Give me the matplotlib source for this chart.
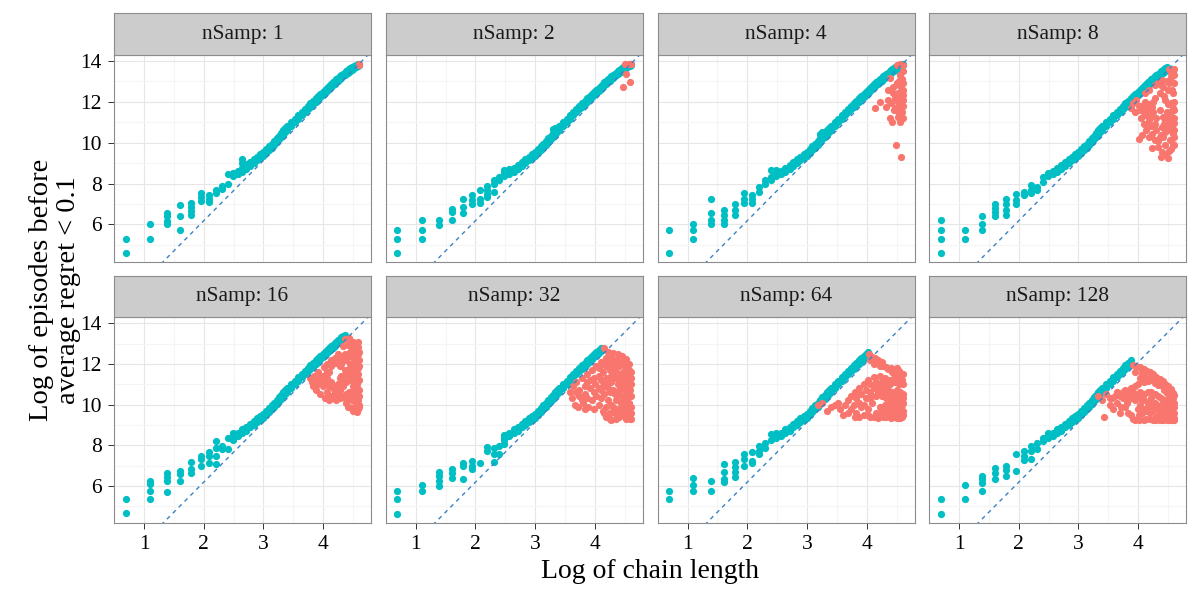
import matplotlib
matplotlib.use('Agg')
import matplotlib.pyplot as plt
import matplotlib.ticker as plticker
import numpy as np

plt.rcParams['font.family'] = ['Liberation Serif', 'DejaVu Serif']

# facet values
n_samp = [1, 2, 4, 8, 16, 32, 64, 128]

# shared teal band (chain length, lower and upper edge of log episodes)
band_len = [12, 13, 14, 15, 16, 17, 18, 19, 20, 21, 22, 23, 24, 25, 26, 27, 28, 29, 30,
            32, 34, 36, 38, 40, 42, 44, 46, 48, 50, 52, 54, 56, 58, 60, 62, 64, 66, 68,
            70, 72, 74, 76, 78, 80, 82, 84, 86, 88, 90, 92, 94, 96, 98, 100]
band_lo = [8.35, 8.45, 8.58, 8.72, 8.88, 9.0, 9.14, 9.25, 9.36, 9.5, 9.63, 9.76, 9.9, 10.03,
           10.17, 10.29, 10.4, 10.5, 10.6, 10.8, 11.0, 11.17, 11.34, 11.49, 11.63, 11.76,
           11.89, 12.01, 12.12, 12.23, 12.34, 12.44, 12.53, 12.62, 12.71, 12.8, 12.88, 12.96,
           13.03, 13.1, 13.17, 13.24, 13.3, 13.36, 13.42, 13.48, 13.53, 13.58, 13.62, 13.66,
           13.7, 13.74, 13.77, 13.8]
band_hi = [8.5, 8.62, 8.78, 8.92, 9.05, 9.2, 9.32, 9.44, 9.55, 9.68, 9.82, 9.96, 10.08, 10.22,
           10.35, 10.48, 10.6, 10.7, 10.8, 11.0, 11.18, 11.36, 11.52, 11.66, 11.8, 11.94,
           12.06, 12.18, 12.29, 12.4, 12.5, 12.6, 12.69, 12.78, 12.87, 12.95, 13.02, 13.1,
           13.17, 13.24, 13.31, 13.37, 13.43, 13.49, 13.54, 13.59, 13.64, 13.68, 13.72, 13.76,
           13.79, 13.82, 13.85, 13.87]

# largest chain length that still has teal points, per facet
teal_max_len = [100, 100, 100, 88, 78, 61, 57, 49]

# teal points for short chains, per facet: (chain length, log episodes)
teal_small_1 = [(2, 5.30), (2, 4.61), (3, 6.01), (3, 5.30), (4, 6.57), (4, 6.41), (4, 6.19),
                (4, 6.0), (5, 6.93), (5, 6.41), (5, 5.71), (6, 7.04), (6, 6.85), (6, 6.68),
                (6, 6.48), (7, 7.53), (7, 7.34), (7, 7.17), (8, 7.45), (8, 7.26), (8, 7.1),
                (9, 7.69), (9, 7.53), (10, 7.9), (10, 7.74), (11, 8.48), (11, 7.99),
                (14, 9.0), (14, 9.22), (15, 8.97)]
teal_small_2 = [(2, 5.71), (2, 5.30), (2, 4.63), (3, 6.20), (3, 5.71), (3, 5.30), (4, 6.2),
                (4, 5.99), (5, 6.77), (5, 6.6), (5, 6.2), (6, 7.24), (6, 6.85), (6, 6.56),
                (7, 7.42), (7, 7.21), (7, 7.01), (8, 7.67), (8, 7.26), (8, 7.04), (9, 7.86),
                (9, 7.7), (9, 7.47), (9, 7.34), (10, 8.16), (10, 7.99), (10, 7.58), (11, 8.32),
                (11, 8.16), (12, 8.65), (13, 8.73), (27, 10.65), (28, 10.7)]
teal_small_3 = [(2, 5.71), (2, 4.63), (3, 6.04), (3, 5.74), (3, 5.30), (4, 7.24), (4, 6.56),
                (4, 6.2), (4, 6.0), (5, 6.69), (5, 6.44), (5, 6.2), (5, 6.04), (6, 7.01),
                (6, 6.69), (6, 6.44), (7, 7.54), (7, 7.26), (7, 7.04), (8, 7.42), (8, 7.26),
                (8, 7.04), (9, 7.83), (9, 7.58), (10, 8.16), (10, 7.99), (11, 8.65), (11, 8.32),
                (11, 8.16), (12, 8.65), (25, 10.45), (26, 10.5)]
teal_small_4 = [(2, 6.2), (2, 5.71), (2, 5.30), (2, 4.63), (3, 5.71), (3, 5.30), (4, 6.41),
                (4, 6.02), (4, 5.71), (5, 7.01), (5, 6.8), (5, 6.6), (5, 6.41), (6, 7.26),
                (6, 7.01), (6, 6.69), (6, 6.44), (7, 7.47), (7, 7.21), (7, 6.98), (8, 7.58),
                (8, 7.42), (9, 7.91), (9, 7.7), (9, 7.54), (10, 7.83), (10, 7.67), (11, 8.32),
                (11, 8.08), (12, 8.4)]
teal_small_5 = [(2, 5.34), (2, 4.65), (3, 6.24), (3, 6.08), (3, 5.75), (3, 5.34), (4, 6.61),
                (4, 6.45), (4, 6.24), (4, 5.72), (5, 6.73), (5, 6.57), (5, 6.24), (6, 7.19),
                (6, 6.81), (6, 6.65), (7, 7.47), (7, 7.3), (7, 6.98), (8, 7.66), (8, 7.47),
                (8, 7.14), (9, 8.2), (9, 7.88), (9, 7.47), (9, 7.06), (10, 7.96), (10, 7.8),
                (11, 8.37), (11, 7.8), (12, 8.61), (12, 8.28)]
teal_small_6 = [(2, 5.73), (2, 5.34), (2, 4.64), (3, 6.05), (3, 5.73), (4, 6.7), (4, 6.49),
                (4, 6.24), (4, 6.0), (5, 6.81), (5, 6.65), (5, 6.4), (6, 7.14), (6, 6.98),
                (6, 6.32), (7, 7.22), (7, 6.98), (7, 6.81), (8, 7.14), (9, 7.91), (9, 7.72),
                (10, 7.88), (10, 7.55), (10, 7.17), (11, 7.96), (11, 7.55), (12, 8.28),
                (12, 8.04)]
teal_small_7 = [(2, 5.73), (2, 5.34), (3, 6.4), (3, 6.03), (3, 5.73), (4, 6.24), (4, 5.73),
                (5, 7.09), (5, 6.7), (5, 6.32), (5, 6.19), (6, 7.19), (6, 6.94), (6, 6.7),
                (6, 6.44), (7, 7.58), (7, 7.34), (7, 6.98), (8, 7.66), (8, 7.22), (8, 7.11),
                (9, 7.96), (9, 7.72), (9, 7.55), (10, 8.12), (10, 7.88), (11, 8.53), (11, 8.28),
                (12, 8.61)]
teal_small_8 = [(2, 5.34), (2, 4.64), (3, 6.05), (3, 5.34), (4, 6.49), (4, 6.32), (4, 6.13),
                (4, 5.73), (5, 6.9), (5, 6.65), (5, 6.32), (6, 6.98), (6, 6.78), (6, 6.49),
                (7, 7.55), (7, 6.73), (8, 7.72), (8, 7.47), (8, 7.27), (9, 7.96), (9, 7.72),
                (9, 7.3), (10, 8.12), (10, 7.8), (11, 8.37), (11, 8.2), (12, 8.61)]

# red points (average regret never got below 0.1), per facet
red_1 = [(99, 13.84), (100, 13.82)]
red_2 = [(91, 13.85), (96, 13.85), (100, 13.85), (98, 13.84), (92, 13.36), (99, 12.98),
         (87, 12.74)]
red_4 = [(90, 13.8), (96, 13.85), (100, 13.8), (81, 13.15), (96, 13.31), (78, 12.58),
         (85, 12.74), (97, 12.74), (92, 12.42), (100, 12.33), (87, 12.17), (97, 12.0),
         (82, 11.92), (76, 11.76), (68, 12.0), (63, 11.7), (90, 11.6), (99, 11.52),
         (81, 11.2), (92, 11.28), (84, 10.99), (96, 10.99), (89, 9.87), (97, 9.3),
         (100, 12.58), (90, 12.9), (96, 11.84), (85, 12.42), (100, 11.2), (78, 12.09),
         (94, 12.2), (100, 12.9), (88, 11.7), (98, 13.1), (93, 11.4),
         (94, 12.8), (98, 12.5), (100, 12.1), (92, 12.0), (96, 11.6), (100, 11.8),
         (90, 12.3), (86, 11.6), (94, 13.0), (100, 13.5)]
red_8 = [(92, 13.59), (97, 13.47), (95, 13.23), (81, 13.07), (72, 12.82), (65, 12.58),
         (61, 12.41), (50, 11.92), (53, 12.08), (61, 12.0), (61, 11.35), (65, 11.1),
         (60, 11.5), (69, 11.76), (72, 12.17), (78, 12.41), (83, 12.74), (90, 12.58),
         (97, 12.41), (86, 12.09), (95, 11.92), (100, 11.6), (88, 11.52), (83, 11.27),
         (93, 11.1), (99, 10.94), (81, 10.78), (90, 10.61), (97, 10.45), (83, 10.29),
         (93, 10.13), (55, 10.16), (69, 10.45), (72, 10.13), (69, 9.72), (81, 9.56),
         (90, 9.23), (97, 9.93), (76, 9.8), (65, 10.29), (100, 12.9), (88, 13.0),
         (100, 11.2), (90, 11.9), (78, 11.6), (74, 11.2), (70, 10.8), (86, 10.5),
         (100, 10.3), (95, 9.7), (86, 9.9), (56, 11.6), (66, 11.9), (76, 12.9), (100, 13.3),
         (92, 12.9), (96, 12.6), (100, 12.0), (98, 11.7), (94, 11.5), (90, 11.3),
         (86, 11.1), (96, 10.8), (92, 10.9), (88, 10.7), (84, 10.9), (80, 10.4),
         (76, 10.1), (100, 10.6), (100, 9.9), (92, 9.6), (86, 9.4), (80, 9.3),
         (70, 11.5), (66, 11.4), (58, 11.8), (63, 11.9), (74, 10.6), (78, 10.3),
         (84, 12.3), (80, 12.8), (100, 13.6), (94, 13.4),
         (57, 11.2), (60, 10.9), (62, 10.6), (58, 10.4), (64, 11.7), (68, 11.3),
         (70, 12.0), (72, 10.9), (66, 10.8), (48, 11.7), (52, 11.5), (55, 11.8)]
red_16 = [(78, 13.2), (84, 13.27), (90, 13.1), (95, 13.0), (98, 12.85), (100, 12.6),
          (96, 12.4), (100, 12.2), (82, 12.95), (88, 12.8), (76, 12.9), (70, 12.5),
          (66, 12.3), (62, 12.2), (58, 12.0), (55, 11.85), (50, 11.6), (47, 11.4),
          (44, 11.3), (45, 11.1), (50, 11.2), (54, 11.4), (58, 11.3), (60, 10.9),
          (72, 11.9), (76, 12.3), (80, 12.2), (85, 12.0), (90, 11.7), (94, 11.8),
          (98, 11.5), (100, 11.2), (86, 11.4), (80, 11.1), (76, 10.9), (72, 10.7),
          (66, 10.6), (62, 10.4), (68, 10.2), (76, 10.4), (84, 10.6), (90, 10.9),
          (96, 11.0), (100, 10.7), (92, 10.4), (98, 10.2), (100, 9.9), (95, 9.8),
          (90, 9.7), (84, 9.9), (80, 10.1), (96, 9.65), (88, 10.2), (72, 10.3),
          (100, 10.4), (94, 11.3), (82, 11.7), (88, 12.4), (92, 12.1), (98, 13.1),
          (74, 11.4), (56, 11.0), (70, 11.0), (78, 11.7), (84, 12.5), (94, 12.6),
          (62, 11.9), (66, 12.05), (70, 12.2), (74, 12.0), (78, 12.5), (82, 12.4),
          (86, 12.6), (90, 12.3), (96, 12.2), (100, 11.9), (98, 11.8), (92, 11.5),
          (88, 11.2), (84, 11.2), (96, 10.8), (92, 10.7), (88, 10.6), (80, 10.5),
          (86, 10.3), (94, 10.1), (100, 10.0), (98, 9.8), (92, 9.9), (96, 10.4),
          (90, 10.3), (82, 9.9), (78, 10.3), (64, 10.3), (58, 10.6), (54, 10.9),
          (60, 11.6), (52, 11.4), (48, 11.2), (72, 11.3), (76, 11.2), (80, 11.5),
          (86, 11.8), (90, 12.0), (94, 12.3), (98, 12.5),
          (46, 10.9), (48, 10.7), (52, 10.5), (56, 10.3), (60, 10.2), (50, 11.0),
          (54, 11.1), (58, 11.6), (62, 11.1), (64, 10.8), (68, 10.9), (70, 10.5)]
red_32 = [(64, 12.78), (68, 12.6), (74, 12.55), (80, 12.5), (86, 12.4), (92, 12.25),
          (96, 12.0), (94, 11.8), (88, 12.1), (78, 12.2), (72, 12.3), (66, 12.3),
          (60, 12.1), (56, 11.9), (52, 11.7), (48, 11.5), (44, 11.3), (40, 11.1),
          (38, 10.9), (36, 10.6), (37, 10.3), (39, 10.0), (41, 9.9), (45, 10.1),
          (49, 9.9), (52, 10.2), (46, 10.5), (42, 10.7), (50, 10.8), (55, 11.0),
          (48, 11.1), (58, 11.4), (62, 11.6), (66, 11.9), (70, 11.7), (75, 11.9),
          (82, 11.9), (88, 11.6), (95, 11.5), (100, 11.3), (98, 11.0), (92, 11.1),
          (85, 11.2), (78, 11.3), (72, 11.1), (65, 11.0), (60, 10.7), (56, 10.4),
          (58, 10.0), (62, 9.7), (66, 9.4), (70, 9.6), (74, 9.9), (68, 10.2),
          (64, 10.5), (70, 10.6), (76, 10.5), (82, 10.7), (88, 10.8), (94, 10.6),
          (100, 10.4), (97, 10.1), (90, 10.2), (84, 10.1), (80, 9.8), (86, 9.5),
          (92, 9.3), (98, 9.3), (100, 9.6), (95, 9.8), (78, 9.3), (72, 9.25),
          (88, 9.9), (100, 9.9),
          (58, 11.8), (62, 12.0), (68, 12.0), (74, 12.2), (80, 12.2), (86, 12.1),
          (90, 11.9), (96, 11.7), (100, 11.6), (100, 11.0), (96, 11.2), (90, 11.4),
          (84, 11.5), (78, 11.6), (72, 11.4), (66, 11.3), (60, 11.2), (54, 11.3),
          (50, 11.2), (46, 10.9), (42, 10.4), (40, 10.6), (44, 10.2), (48, 10.3),
          (54, 10.6), (58, 10.8), (62, 10.9), (68, 10.8), (74, 10.7), (80, 11.0),
          (86, 10.9), (92, 10.8), (98, 10.7), (96, 10.4), (90, 10.5), (84, 10.4),
          (78, 10.2), (72, 10.0), (66, 9.9), (60, 10.3), (54, 9.8), (46, 9.8),
          (70, 9.3), (76, 9.6), (82, 9.4), (88, 9.6), (94, 9.5), (100, 9.3),
          (96, 9.6), (90, 10.0), (84, 9.7), (64, 9.6)]
red_64 = [(57, 12.5), (60, 12.35), (63, 12.3), (66, 12.2), (70, 12.1), (62, 12.0),
          (68, 11.9), (75, 11.85), (82, 11.8), (86, 11.75), (90, 11.8), (94, 11.65),
          (97, 11.5), (92, 11.3), (98, 11.2), (100, 11.0), (88, 11.1), (80, 11.2),
          (74, 11.3), (68, 11.4), (62, 11.35), (56, 11.2), (52, 11.0), (48, 10.8),
          (45, 10.6), (42, 10.4), (40, 10.2), (38, 10.0), (34, 10.1), (32, 10.0),
          (28, 9.7), (37, 9.5), (42, 9.8), (46, 9.6), (50, 9.9), (54, 10.3),
          (58, 10.6), (62, 10.8), (66, 10.9), (72, 10.8), (78, 10.7), (84, 10.6),
          (90, 10.7), (96, 10.6), (100, 10.5), (100, 10.1), (94, 10.2), (88, 10.3),
          (82, 10.2), (76, 10.3), (70, 10.4), (64, 10.4), (60, 10.1), (56, 9.8),
          (52, 9.5), (58, 9.4), (64, 9.6), (68, 9.9), (74, 9.7), (80, 9.5),
          (86, 9.4), (92, 9.5), (98, 9.4), (100, 9.7), (96, 9.8), (90, 9.9),
          (84, 9.9), (78, 10.0), (72, 9.4), (24, 10.0), (26, 10.1), (45, 9.4),
          (58, 12.2), (64, 12.1), (72, 11.9), (78, 11.75), (84, 11.6), (90, 11.5),
          (96, 11.3), (100, 11.5), (94, 11.0), (86, 11.3), (80, 11.0), (76, 11.0),
          (70, 11.1), (64, 11.1), (58, 11.0), (54, 10.7), (50, 10.5), (46, 10.3),
          (44, 10.0), (48, 10.1), (52, 10.0), (56, 10.3), (60, 10.4), (66, 10.6),
          (72, 10.6), (78, 10.4), (84, 10.4), (90, 10.5), (96, 10.4), (100, 10.3),
          (98, 10.0), (92, 10.0), (86, 10.1), (80, 9.8), (74, 10.0), (68, 9.6),
          (62, 9.4), (66, 9.35), (76, 9.4), (82, 9.35), (88, 9.6), (94, 9.7),
          (100, 9.5), (96, 9.35), (90, 9.35), (56, 9.5), (48, 9.4), (40, 9.6),
          (35, 9.8), (30, 9.9)]
red_128 = [(50, 11.95), (53, 11.9), (56, 11.85), (60, 11.75), (63, 11.65), (66, 11.6),
           (70, 11.5), (74, 11.35), (78, 11.25), (82, 11.15), (86, 11.0), (90, 10.9),
           (94, 10.75), (98, 10.55), (100, 10.45), (58, 11.5), (62, 11.3), (68, 11.2),
           (72, 11.05), (76, 10.95), (84, 10.7), (88, 10.55), (92, 10.35),
           (28, 10.4), (30, 10.2), (32, 10.5), (35, 10.3), (38, 10.6), (40, 10.4),
           (44, 10.7), (48, 10.8), (52, 10.9), (56, 10.6), (50, 10.3), (45, 10.1),
           (41, 9.9), (36, 9.8), (31, 9.4), (46, 9.6), (50, 9.3), (55, 9.5),
           (60, 9.8), (64, 10.1), (68, 10.3), (72, 10.1), (76, 9.8), (80, 9.6),
           (84, 9.3), (88, 9.5), (92, 9.8), (96, 10.0), (100, 9.6), (98, 9.3),
           (92, 9.25), (70, 9.25), (62, 9.3), (58, 10.2), (66, 9.6), (74, 9.4),
           (80, 10.0), (86, 10.1), (100, 10.1), (55, 9.25), (78, 9.25), (44, 9.9),
           (60, 10.5), (64, 10.6), (68, 10.6), (72, 10.5), (76, 10.4), (80, 10.3),
           (84, 10.2), (88, 10.0), (92, 10.1), (96, 9.6), (100, 9.35), (94, 9.4),
           (90, 9.6), (86, 9.7), (82, 9.8), (78, 9.6), (74, 9.8), (70, 9.7),
           (66, 9.9), (62, 9.7), (58, 9.6), (54, 9.8), (52, 10.2), (48, 10.4),
           (46, 10.6), (42, 10.3), (38, 10.1), (34, 10.0), (40, 9.6), (48, 9.5),
           (52, 9.25), (60, 9.25), (66, 9.3), (74, 9.25), (82, 9.25), (86, 9.35),
           (88, 9.25), (96, 9.25), (100, 9.25), (100, 9.9), (96, 10.3), (92, 10.6),
           (54, 11.0), (60, 11.1), (64, 11.15), (66, 11.3), (70, 11.3), (80, 10.95),
           (88, 10.8), (94, 10.5), (98, 10.3), (56, 11.3), (52, 11.6), (58, 11.7),
           (34, 10.3), (37, 10.4), (42, 10.6), (44, 10.4), (46, 10.2), (50, 10.6),
           (54, 10.4), (56, 10.0), (60, 10.2), (64, 9.9), (68, 10.0), (72, 9.8)]

teal_small = [teal_small_1, teal_small_2, teal_small_3, teal_small_4,
              teal_small_5, teal_small_6, teal_small_7, teal_small_8]
red_all = [red_1, red_2, red_4, red_8, red_16, red_32, red_64, red_128]

# reference line
line_slope = 2.95
line_icpt = 0.285

TEAL = '#00BFC4'
SALMON = '#F8766D'
DOT = 27

fig = plt.figure(figsize=(12, 6), dpi=100)
W, H = 1200.0, 600.0

col_left = [114, 385.7, 657.5, 929]
panel_w = 257
row_top = [55, 317.3]
panel_h = [206.5, 205.4]
strip_top = [13.3, 275.7]

xlim = (0.497, 4.80)
ylim = (4.19, 14.29)

for k in range(8):
    r, c = k // 4, k % 4
    ax = fig.add_axes([col_left[c] / W, 1 - (row_top[r] + panel_h[r]) / H,
                       panel_w / W, panel_h[r] / H])
    ax.set_xlim(*xlim)
    ax.set_ylim(*ylim)
    ax.set_facecolor('white')

    # grid like theme_bw
    ax.xaxis.set_major_locator(plticker.FixedLocator([1, 2, 3, 4]))
    ax.xaxis.set_minor_locator(plticker.FixedLocator([1.5, 2.5, 3.5, 4.5]))
    ax.yaxis.set_major_locator(plticker.FixedLocator([6, 8, 10, 12, 14]))
    ax.yaxis.set_minor_locator(plticker.FixedLocator([5, 7, 9, 11, 13]))
    ax.grid(which='major', color='#E6E6E6', linewidth=0.8)
    ax.grid(which='minor', color='#F5F5F5', linewidth=0.8)
    ax.set_axisbelow(True)

    # teal points
    tl = [p[0] for p in teal_small[k]]
    ty = [p[1] for p in teal_small[k]]
    for n, lo, hi in zip(band_len, band_lo, band_hi):
        if n <= teal_max_len[k]:
            tl += [n, n]
            ty += [lo, hi]
    ax.scatter(np.log(tl), ty, s=DOT, color=TEAL, linewidths=0, zorder=2)

    # red points
    rl = [p[0] for p in red_all[k]]
    ry = [p[1] for p in red_all[k]]
    ax.scatter(np.log(rl), ry, s=DOT, color=SALMON, linewidths=0, zorder=3)

    xs = np.array(xlim)
    ax.plot(xs, line_slope * xs + line_icpt, color='#3B82C4', linewidth=1.0,
            linestyle=(0, (3, 3)), zorder=4)

    for sp in ax.spines.values():
        sp.set_color('#8C8C8C')
        sp.set_linewidth(0.8)

    ax.tick_params(which='minor', length=0)
    ax.tick_params(which='major', length=4.3, width=0.7, color='#333333',
                   labelsize=15.5, pad=4.5, labelcolor='black')
    if r == 0:
        ax.tick_params(axis='x', which='major', length=0, labelbottom=False)
    if c != 0:
        ax.tick_params(axis='y', which='major', length=0, labelleft=False)

    # strip
    sx = fig.add_axes([col_left[c] / W, 1 - (row_top[r]) / H,
                       panel_w / W, (row_top[r] - strip_top[r]) / H])
    sx.set_facecolor('#CCCCCC')
    sx.set_xticks([])
    sx.set_yticks([])
    for sp in sx.spines.values():
        sp.set_color('#8C8C8C')
        sp.set_linewidth(0.8)
    sx.text(0.5, 0.5, 'nSamp: %d' % n_samp[k], ha='center', va='center',
            fontsize=15.5, color='#1A1A1A', transform=sx.transAxes)

fig.text(650 / W, 1 - 572 / H, 'Log of chain length', ha='center', va='center',
         fontsize=20)
fig.text(55 / W, 1 - 290 / H, 'Log of episodes before\naverage regret < 0.1',
         ha='center', va='center', rotation=90, fontsize=20.5, linespacing=1.1)

fig.savefig('out.png', dpi=100)
